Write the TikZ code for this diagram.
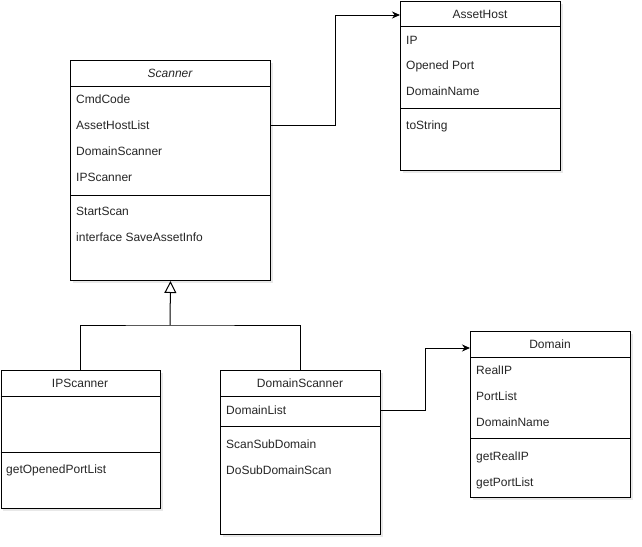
\documentclass[tikz,border=0pt]{standalone}
\usepackage{fontspec}
\setmainfont{Liberation Sans}
\usetikzlibrary{arrows.meta,shadows}
\begin{document}
\begin{tikzpicture}[x=1pt,y=-1pt,
  every node/.style={font=\fontsize{12}{14}\selectfont, text=black!85},
  classbox/.style={draw, line width=1pt, fill=white, anchor=north west, inner sep=0pt,
    drop shadow={opacity=0.18, shadow xshift=2pt, shadow yshift=-2pt}},
  classtitle/.style={anchor=base, inner sep=0pt, yshift=-4.3pt},
  member/.style={anchor=base west, inner sep=0pt, yshift=-4.3pt},
  rule/.style={line width=1pt},
  assoc/.style={line width=1pt, -{Stealth[length=8pt,width=7pt]}},
  inherit/.style={line width=1pt, -{Triangle[open, length=12pt, width=12pt, fill=white]}}]
\useasboundingbox (0,0) rectangle (642,546);

% ---- Scanner (abstract) ----
\node[classbox, minimum width=200pt, minimum height=220pt] (Scanner) at (70,60) {};
\node[classtitle, font=\fontsize{12}{14}\selectfont\itshape] (ScannerT) at (170,73) {Scanner};
\draw[rule] (Scanner.west |- 0,86) -- (Scanner.east |- 0,86);
\draw[rule] (Scanner.west |- 0,195) -- (Scanner.east |- 0,195);
\node[member] (scCmd) at (76,99.5) {CmdCode};
\node[member] (scAHL) at (76,125.5) {AssetHostList};
\node[member] (scDS) at (76,151.5) {DomainScanner};
\node[member] (scIP) at (76,177.5) {IPScanner};
\node[member] (scStart) at (76,211.5) {StartScan};
\node[member] (scSave) at (76,237.5) {interface SaveAssetInfo};

% ---- AssetHost ----
\node[classbox, minimum width=160pt, minimum height=169pt] (AssetHost) at (400,1) {};
\node[classtitle] (AssetHostT) at (480,14) {AssetHost};
\draw[rule] (AssetHost.west |- 0,26) -- (AssetHost.east |- 0,26);
\draw[rule] (AssetHost.west |- 0,108) -- (AssetHost.east |- 0,108);
\node[member] (ahIP) at (406,40) {IP};
\node[member] (ahPort) at (406,65.5) {Opened Port};
\node[member] (ahName) at (406,91.5) {DomainName};
\node[member] (ahStr) at (406,125.5) {toString};

% ---- IPScanner ----
\node[classbox, minimum width=159.5pt, minimum height=138pt] (IPScanner) at (0.5,370) {};
\node[classtitle] (IPScannerT) at (80,383) {IPScanner};
\draw[rule] (IPScanner.west |- 0,396) -- (IPScanner.east |- 0,396);
\draw[rule] (IPScanner.west |- 0,452) -- (IPScanner.east |- 0,452);
\node[member] (ipGet) at (6,469.5) {getOpenedPortList};

% ---- DomainScanner ----
\node[classbox, minimum width=160pt, minimum height=164pt] (DomainScanner) at (220,370) {};
\node[classtitle] (DomainScannerT) at (300,383) {DomainScanner};
\draw[rule] (DomainScanner.west |- 0,396) -- (DomainScanner.east |- 0,396);
\draw[rule] (DomainScanner.west |- 0,426) -- (DomainScanner.east |- 0,426);
\node[member] (dsList) at (226,410) {DomainList};
\node[member] (dsScan) at (226,444) {ScanSubDomain};
\node[member] (dsDo) at (226,470) {DoSubDomainScan};

% ---- Domain ----
\node[classbox, minimum width=160pt, minimum height=166pt] (Domain) at (470,331) {};
\node[classtitle] (DomainT) at (550,344) {Domain};
\draw[rule] (Domain.west |- 0,357) -- (Domain.east |- 0,357);
\draw[rule] (Domain.west |- 0,438) -- (Domain.east |- 0,438);
\node[member] (dRealIP) at (476,370.5) {RealIP};
\node[member] (dPorts) at (476,396) {PortList};
\node[member] (dName) at (476,422) {DomainName};
\node[member] (dGetIP) at (476,456) {getRealIP};
\node[member] (dGetPorts) at (476,482) {getPortList};

% ---- associations ----
\coordinate (hostAnchor) at (270,125.5);
\coordinate (hostBend) at (335,15);
\draw[assoc] (Scanner.east |- hostAnchor) -- (hostBend |- hostAnchor) -- (hostBend) -- (AssetHost.west |- hostBend);
\coordinate (domAnchor) at (380,410);
\coordinate (domBend) at (425,348);
\draw[assoc] (DomainScanner.east |- domAnchor) -- (domBend |- domAnchor) -- (domBend) -- (Domain.west |- domBend);

% ---- generalisation ----
\coordinate (split) at (170,325);
\draw[line width=1pt] (IPScanner.north) |- (split) -| (DomainScanner.north);
\draw[inherit] (split) -- (Scanner.south);
\end{tikzpicture}
\end{document}
